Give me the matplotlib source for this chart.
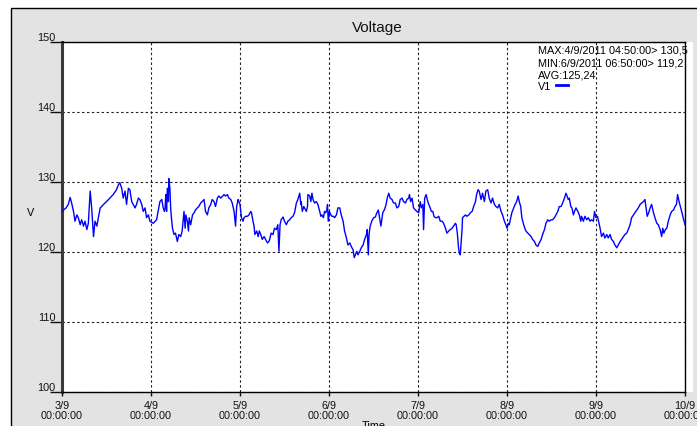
import matplotlib
matplotlib.use("Agg")
import matplotlib.pyplot as plt
from matplotlib.patches import Rectangle
from matplotlib.lines import Line2D

# hours since 3/9 00:00 and voltage readings (V1)
hours = [
    0.0, 0.4, 1.1, 1.7, 2.2, 2.6, 3.1, 3.5, 4.0, 4.4, 4.9, 5.3, 5.8, 6.2, 6.7, 7.1,
    7.6, 8.0, 8.5, 8.9, 9.4, 9.8, 10.3, 10.7, 11.2, 12.0, 12.9, 13.8, 14.7, 15.2, 15.6,
    16.1, 16.5, 17.0, 17.4, 17.9, 18.3, 18.8, 19.2, 19.7, 20.1, 20.6, 21.0, 21.5, 21.9,
    22.4, 22.8, 23.3, 23.7, 24.6, 25.5, 26.4, 26.9, 27.3,
    27.6, 27.8, 28.0, 28.2, 28.4, 28.7, 28.8, 29.1, 29.3, 29.5, 29.8, 30.2, 30.6, 31.1,
    31.5, 32.0, 32.4, 32.9, 33.2, 33.4, 33.8, 34.1, 34.3, 34.7, 35.2, 35.6, 36.0, 36.5,
    36.9, 37.4, 37.8, 38.3, 38.7, 39.2, 39.6, 40.1, 40.5, 41.0, 41.4, 41.9, 42.3, 42.8,
    43.7, 44.1, 44.6, 45.0, 45.5, 45.9, 46.4, 46.8, 47.1, 47.5, 47.7, 48.0, 48.4, 48.8,
    49.1, 49.5, 50.0, 50.4, 50.9, 51.1, 51.5, 51.8, 52.0, 52.5, 52.9, 53.2, 53.6, 54.0,
    54.5, 54.9, 55.4, 55.8,
    56.0, 56.4, 56.9, 57.3, 57.8, 58.2, 58.5, 58.8, 59.1, 59.6, 60.0, 60.5, 60.9, 61.4,
    61.8, 62.3, 62.7, 63.2, 63.6, 64.1, 64.4, 64.5, 64.8, 65.2, 65.4, 65.9, 66.2, 66.3,
    66.8, 67.1, 67.4, 67.7, 68.1, 68.6, 69.0, 69.5, 69.8, 70.1, 70.5, 70.8, 71.1, 71.4,
    71.6, 71.8, 72.1, 72.5, 72.8, 73.2, 73.5, 74.0, 74.4, 74.9, 75.3, 75.8, 76.2, 76.7,
    77.1, 77.6, 78.0, 78.5, 78.8, 79.1, 79.5, 79.8, 80.3, 80.7, 81.2, 81.6, 82.1, 82.3,
    82.6, 82.8, 83.1, 83.6, 84.05, 84.5, 84.9, 85.3, 86.0, 86.5, 87.0, 87.4, 87.7, 88.1,
    88.5, 89.0, 89.4, 89.9, 90.3, 90.8, 91.2, 91.7, 92.1, 92.6, 93.0, 93.5, 93.7, 94.0,
    94.4, 94.8, 95.3, 95.7, 96.2, 96.6, 96.9, 97.3, 97.5, 97.8, 98.2, 98.5, 98.9, 99.3,
    99.6, 100.0, 100.3, 100.7, 101.1, 101.6, 102.0, 102.5, 102.9, 103.4, 103.8, 104.3,
    104.7, 105.2, 105.6, 106.1, 106.3, 106.6, 106.9, 107.1, 107.4, 107.7, 107.9, 108.0,
    108.4, 108.8, 109.2, 109.7, 110.1, 110.6, 111.0, 111.5, 111.8, 112.2,
    112.5, 113.0, 113.4, 113.9, 114.3, 114.8, 115.2, 115.7, 116.1, 116.6, 117.0, 117.5,
    117.9, 118.4, 118.8, 119.3, 119.7, 120.0, 120.4, 120.6, 120.9, 121.3, 121.8, 122.2,
    122.6, 123.0, 123.3, 123.7, 124.0, 124.4, 124.8, 125.1, 125.6, 126.0, 126.5, 126.9,
    127.4, 127.8, 128.3, 128.7, 129.2, 129.6, 130.1, 130.5, 131.0, 131.4, 131.9, 132.3,
    132.8, 133.2, 133.7, 134.1, 134.6, 135.0, 135.5, 135.9, 136.2, 136.5, 136.8, 137.2,
    137.5, 137.9, 138.2, 138.6, 139.1, 139.5, 139.9,
    140.1, 140.6, 141.0, 141.5, 141.9, 142.4, 142.8, 143.3, 143.6, 144.0, 144.4, 144.7,
    145.1, 145.5, 146.0, 146.4, 146.9, 147.3, 147.8, 148.2, 148.7, 149.1, 149.6, 150.0,
    150.5, 150.9, 151.4, 151.8, 152.3, 152.7, 153.2, 153.6, 154.1, 154.5, 155.0, 155.4,
    155.9, 156.3, 156.8, 157.2, 157.5, 157.8, 158.2, 158.6, 159.0, 159.5, 159.9, 160.4,
    160.8, 161.3, 161.7, 162.0, 162.3, 162.7, 163.1, 163.5, 164.0, 164.4, 164.9, 165.3,
    165.7, 166.0, 166.4, 166.6, 167.1, 167.5, 168.0,
]
volts = [
    125.8, 126.0, 126.3, 126.8, 127.8, 127.0, 125.8, 124.4, 125.3, 124.9, 123.9, 124.6,
    123.7, 124.4, 123.2, 124.1, 128.7, 126.3, 122.2, 124.4, 123.7, 124.9, 126.3, 126.5,
    126.8, 127.2, 127.7, 128.2, 128.9, 129.6, 129.9, 129.1, 127.7, 128.7, 126.8, 129.1,
    128.9, 127.2, 126.8, 126.3, 126.8, 127.7, 127.5, 126.8, 125.8, 126.3, 124.9, 125.3,
    124.4, 124.1, 124.6, 127.2, 127.5, 126.3,
    125.8, 126.3, 128.2, 125.8, 129.1, 127.2, 130.5, 129.1, 126.3, 124.9, 123.4, 122.5,
    122.7, 121.5, 122.5, 122.2, 123.0, 125.8, 123.4, 125.3, 124.4, 123.0, 124.9, 123.9,
    125.3, 125.6, 126.0, 126.3, 126.5, 127.0, 127.2, 127.5, 125.8, 125.3, 126.3, 126.8,
    127.5, 127.2, 126.5, 127.7, 128.0, 127.7, 128.2, 128.0, 128.2, 127.7, 127.5, 127.0,
    125.8, 123.7, 126.5, 127.5, 127.2, 126.8, 124.9, 124.4, 124.9, 125.1, 125.1, 125.3,
    125.8, 125.6, 124.4, 123.7, 122.5, 123.0, 122.2, 123.0, 122.5, 121.8, 122.2, 121.8,
    121.3, 121.5,
    121.8, 122.7, 122.5, 123.4, 123.2, 123.9, 120.1, 123.9, 124.6, 125.0, 124.4, 123.9,
    124.4, 124.6, 124.9, 125.1, 125.6, 127.0, 127.5, 128.4, 126.8, 127.2, 125.8, 126.5,
    126.3, 125.8, 126.5, 128.2, 128.0, 127.2, 128.4, 127.5, 127.0, 127.2, 126.8, 125.8,
    125.1, 125.3, 124.9, 125.8, 125.6, 126.0, 126.8, 124.4, 125.8, 125.3, 125.1, 125.1,
    124.9, 125.3, 126.3, 126.3, 125.3, 124.4, 123.0, 122.0, 121.0, 121.3, 120.8, 120.3,
    119.2, 119.6, 120.1, 119.6, 120.1, 120.6, 121.0, 121.8, 122.5, 123.2, 119.6, 122.5,
    123.7, 124.5, 124.9, 125.0, 125.6, 126.0, 123.7, 125.6, 126.1, 126.8, 127.7, 128.4,
    127.7, 127.5, 127.0, 127.0, 126.3, 126.5, 127.5, 127.7, 127.2, 127.0, 127.5, 127.7,
    128.2, 127.2, 127.7, 126.3, 126.0, 125.8, 125.6, 127.2, 126.3, 126.8, 123.2, 127.7,
    128.2, 127.5, 126.8, 126.3, 125.8, 125.8, 125.1, 124.9, 124.9, 125.1, 124.4, 124.4,
    124.1, 123.4, 122.7, 123.0, 123.2, 123.4, 123.7, 124.1, 123.9, 122.7, 120.8, 119.9,
    119.6, 122.0, 123.4, 124.9, 125.1, 125.3, 125.1, 125.3, 125.6, 125.8, 126.5, 127.2,
    128.2, 128.9,
    128.7, 127.5, 128.4, 127.2, 128.7, 128.9, 127.7, 127.0, 127.7, 126.8, 126.5, 126.3,
    126.8, 125.8, 125.3, 124.4, 123.9, 123.4, 124.1, 123.9, 124.6, 125.6, 126.3, 126.8,
    127.2, 128.0, 127.2, 126.5, 124.9, 124.1, 123.4, 123.0, 122.7, 122.5, 122.2, 121.8,
    121.5, 121.0, 120.8, 121.3, 121.8, 122.5, 123.2, 124.1, 124.6, 124.4, 124.6, 124.6,
    124.9, 125.3, 125.8, 126.5, 126.5, 127.0, 127.7, 128.4, 128.0, 127.5, 127.7, 126.5,
    126.3, 125.3, 125.8, 126.3, 125.8, 125.3, 124.4,
    125.1, 124.4, 125.1, 124.6, 124.9, 124.4, 124.6, 124.4, 125.8, 124.9, 125.1, 124.4,
    123.4, 122.2, 122.7, 122.0, 122.5, 122.0, 122.5, 121.8, 121.5, 121.0, 120.6, 121.0,
    121.5, 121.8, 122.2, 122.5, 122.7, 123.2, 123.9, 124.9, 125.3, 125.6, 126.0, 126.3,
    126.8, 127.0, 127.2, 127.5, 126.3, 125.1, 125.6, 126.3, 126.8, 125.6, 124.9, 124.1,
    123.9, 123.2, 122.2, 123.4, 122.7, 123.2, 123.4, 124.4, 125.3, 125.8, 126.0, 126.5,
    126.8, 128.2, 127.2, 126.8, 125.8, 124.9, 123.9,
]

day_ticks = [0, 24, 48, 72, 96, 120, 144, 168]
day_labels = ["3/9", "4/9", "5/9", "6/9", "7/9", "8/9", "9/9", "10/9"]
y_ticks = [100, 110, 120, 130, 140, 150]

max_text = "MAX:4/9/2011 04:50:00> 130,5"
min_text = "MIN:6/9/2011 06:50:00> 119,2"
avg_text = "AVG:125,24"

plt.rcParams["font.family"] = ["Liberation Sans", "DejaVu Sans"]
fs = 7.8
W, H = 697, 427
fig = plt.figure(figsize=(W / 100, H / 100), dpi=100, facecolor="white")

# grey panel with black border, drawn behind the axes
fig.patches.append(Rectangle((11 / W, -0.05), 1.0, 1 - 9 / H + 0.05, transform=fig.transFigure,
                             facecolor="#e3e3e3", edgecolor="black", lw=1.0, zorder=-10))
fig.patches.append(Rectangle((685 / W, 1 - 393 / H), 8 / W, 350 / H, transform=fig.transFigure,
                             facecolor="white", edgecolor="none", zorder=-9))

ax = fig.add_axes([62 / W, 1 - 393 / H, 623 / W, 350 / H])
ax.set_facecolor("white")
ax.plot(hours, volts, color="#0000ff", lw=1.0, zorder=3)

ax.set_xlim(0, 168)
ax.set_ylim(100, 150)
ax.set_xticks(day_ticks)
ax.set_xticklabels([d + "\n00:00:00" for d in day_labels], fontsize=fs, linespacing=1.1)
ax.set_yticks(y_ticks)
ax.set_yticklabels([str(v) for v in y_ticks], fontsize=fs)
for lab in ax.get_yticklabels():
    lab.set_verticalalignment("bottom")
ax.tick_params(axis="y", direction="out", length=8.6, width=1.0, pad=-4.0, colors="#111111")
ax.tick_params(axis="x", direction="out", length=3.0, width=1.0, pad=2.5, colors="#111111")

for s in ["top", "right", "bottom"]:
    ax.spines[s].set_linewidth(1.0)
    ax.spines[s].set_color("black")
ax.spines["left"].set_linewidth(2.2)
ax.spines["left"].set_color("#3a3a3a")

ax.grid(True, color="#222222", lw=0.8, linestyle=(0, (2.2, 2.2)))
ax.set_axisbelow(True)

ax.text(-0.051, 0.514, "V", transform=ax.transAxes, fontsize=fs, ha="center", va="center")
fig.text(374 / W, 1 - 421 / H, "Time", fontsize=fs, ha="center", va="top")
fig.text(377 / W, 1 - 32 / H, "Voltage", fontsize=11, ha="center", va="baseline", color="#111111")

ax.text(0.764, 0.969, max_text, transform=ax.transAxes, fontsize=fs, va="baseline")
ax.text(0.764, 0.933, min_text, transform=ax.transAxes, fontsize=fs, va="baseline")
ax.text(0.764, 0.898, avg_text, transform=ax.transAxes, fontsize=fs, va="baseline")
handle = Line2D([], [], color="#0000ff", lw=2)
ax.legend([handle], ["V1"], loc="upper left", bbox_to_anchor=(0.764, 0.89), frameon=False,
          fontsize=fs, handlelength=1.1, handletextpad=0.4, borderpad=0, borderaxespad=0,
          markerfirst=False)

fig.savefig("out.png", dpi=100, facecolor="white")
